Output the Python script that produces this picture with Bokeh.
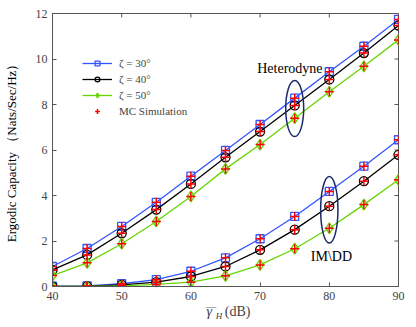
from bokeh.plotting import figure
from bokeh.models import Range1d, FixedTicker, Legend, LegendItem, Label
from bokeh.embed import file_html
from bokeh.resources import INLINE
from bokeh.core.properties import value

snr = [40, 45, 50, 55, 60, 65, 70, 75, 80, 85, 90]
het30 = [0.88, 1.67, 2.64, 3.70, 4.85, 5.98, 7.12, 8.28, 9.44, 10.56, 11.74]
het40 = [0.73, 1.39, 2.34, 3.38, 4.51, 5.68, 6.81, 7.96, 9.10, 10.26, 11.47]
het50 = [0.48, 1.04, 1.88, 2.86, 3.96, 5.17, 6.24, 7.40, 8.56, 9.68, 10.84]
imdd30 = [0.01, 0.03, 0.12, 0.30, 0.67, 1.26, 2.10, 3.08, 4.18, 5.29, 6.45]
imdd40 = [0.00, 0.01, 0.07, 0.19, 0.44, 0.88, 1.61, 2.50, 3.53, 4.63, 5.79]
imdd50 = [0.00, 0.00, 0.03, 0.09, 0.19, 0.47, 0.95, 1.66, 2.56, 3.60, 4.69]
labels = ["ζ = 30°", "ζ = 40°", "ζ = 50°"]
mc_label = "MC Simulation"
x_ticks = [40, 50, 60, 70, 80, 90]
y_ticks = [0, 2, 4, 6, 8, 10, 12]

FONT = "'Liberation Serif'"
AX = "#555555"
XMIN, XMAX, YMIN, YMAX = 40, 90, 0, 12

p = figure(width=416, height=327, x_range=Range1d(XMIN, XMAX), y_range=Range1d(YMIN, YMAX),
           output_backend="svg", toolbar_location=None,
           min_border_left=52, min_border_right=18, min_border_top=13, min_border_bottom=41)
p.grid.visible = False
p.outline_line_color = AX
p.background_fill_color = "white"
p.border_fill_color = "white"

for ax in (p.xaxis[0], p.yaxis[0]):
    ax.major_tick_in = 4
    ax.major_tick_out = 0
    ax.minor_tick_line_color = None
    ax.axis_line_color = AX
    ax.major_tick_line_color = AX
    ax.major_label_text_font = FONT
    ax.major_label_text_font_size = "12px"
    ax.major_label_text_color = "#444444"
    ax.major_label_standoff = 5
p.xaxis.ticker = FixedTicker(ticks=x_ticks)
p.yaxis.ticker = FixedTicker(ticks=y_ticks)
p.yaxis.axis_label = "Ergodic Capacity （Nats/Sec/Hz）"
p.yaxis.axis_label_text_font = FONT
p.yaxis.axis_label_text_font_size = "13px"
p.yaxis.axis_label_text_font_style = "normal"
p.yaxis.axis_label_text_color = "black"
p.yaxis.axis_label_standoff = 14

# inward ticks on top and right edges (box style), from the tick lists
tx = 4 * (XMAX - XMIN) / 346.0
ty = 4 * (YMAX - YMIN) / 273.0
p.segment(x0=x_ticks, y0=[YMAX] * len(x_ticks), x1=x_ticks, y1=[YMAX - ty] * len(x_ticks),
          line_color=AX, line_width=1)
p.segment(x0=[XMAX] * len(y_ticks), y0=y_ticks, x1=[XMAX - tx] * len(y_ticks), y1=y_ticks,
          line_color=AX, line_width=1)

colors = ["#3355ff", "black", "#66d400"]
markers = ["square", "circle", "diamond"]
msizes = [8, 9, 11]
items = []
for i, (h, m) in enumerate([(het30, imdd30), (het40, imdd40), (het50, imdd50)]):
    rl = None
    for ys in (h, m):
        l = p.line(snr, ys, line_color=colors[i], line_width=1.3)
        s = p.scatter(snr, ys, marker=markers[i], size=msizes[i], line_color=colors[i],
                      fill_color=None, line_width=1.3)
        if rl is None:
            rl = (l, s)
    items.append(LegendItem(label=labels[i], renderers=list(rl)))

mc = None
for ys in (het30, het40, het50, imdd30, imdd40, imdd50):
    r = p.scatter(snr, ys, marker="cross", size=9, line_color="#ff0000", line_width=1.5)
    if mc is None:
        mc = r
items.append(LegendItem(label=mc_label, renderers=[mc]))

leg = Legend(items=items, location=(30, 169), label_text_font=FONT, label_text_font_size="11px",
             glyph_width=30, glyph_height=12, label_height=12, spacing=4, label_standoff=7, padding=4,
             border_line_color=None, background_fill_alpha=0)
p.add_layout(leg, "center")

# annotations
p.ellipse(x=[75], y=[7.82], width=2.6, height=2.46, fill_color=None, line_color="#1a2a6c", line_width=1.5)
p.ellipse(x=[80], y=[3.37], width=2.5, height=2.93, fill_color=None, line_color="#1a2a6c", line_width=1.5)
p.text(x=[74.3], y=[9.57], text=["Heterodyne"], text_font=value(FONT), text_font_size="14px",
       text_align="center", text_baseline="middle", text_color="black")
p.text(x=[80.3], y=[1.33], text=["IM\\DD"], text_font=value(FONT), text_font_size="14px",
       text_align="center", text_baseline="middle", text_color="black")

# x axis label: overlined gamma_H (dB); small pieces parked in side panels, placed in data units
p.add_layout(Label(x=62.25, y=-1.12, text="γ", text_font=FONT, text_font_style="italic",
                   text_font_size="14px", text_baseline="middle"), "right")
p.add_layout(Label(x=63.6, y=-1.3, text="H", text_font=FONT, text_font_style="italic",
                   text_font_size="9px", text_baseline="middle"), "right")
p.add_layout(Label(x=62.2, y=-1.16, text="‾‾‾", text_font=FONT,
                   text_font_size="10px", text_baseline="middle"), "above")
p.add_layout(Label(x=64.9, y=-1.12, text="(dB)", text_font=FONT,
                   text_font_size="14px", text_baseline="middle"), "below")

open("out.html", "w").write(file_html(p, INLINE))
